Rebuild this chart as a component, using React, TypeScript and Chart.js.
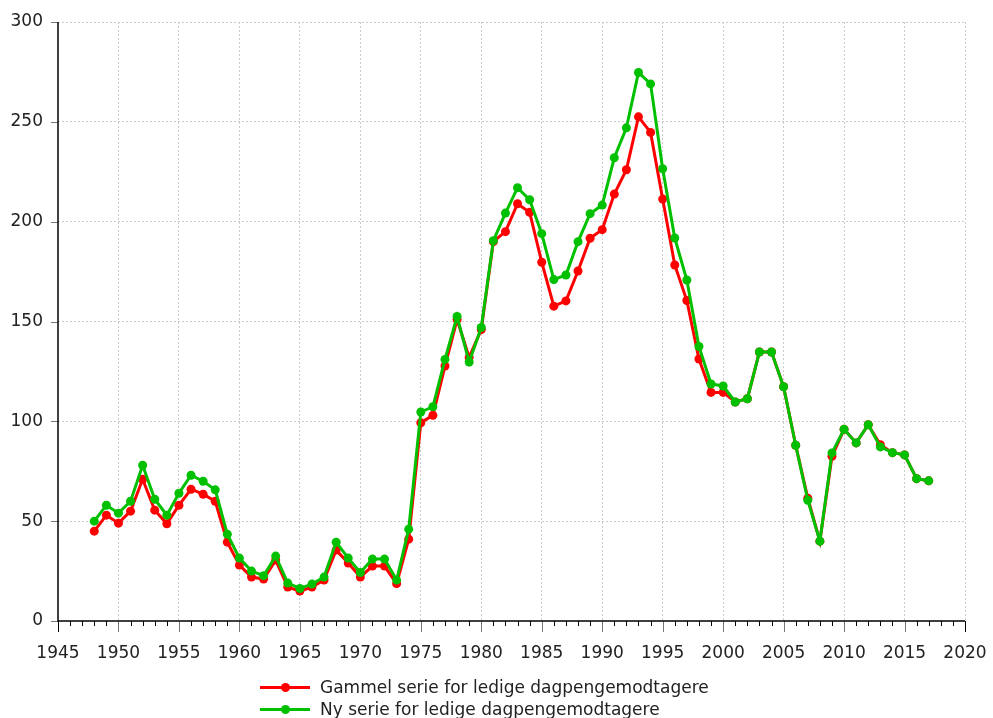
import React, { useEffect, useRef } from "react";
import { Chart, registerables } from "chart.js";

Chart.register(...registerables);

const years: number[] = [];
for (let y = 1948; y <= 2017; y++) years.push(y);

const oldSeries = [
  45, 53, 49, 55, 71, 55.5, 48.7, 58, 66, 63.5, 60, 39.5,
  28, 22, 21, 30.5, 17, 15, 17, 20.5, 35.5, 29,
  22, 27.5, 27.5, 18.7, 41, 99.3, 103, 127.7, 151, 132,
  146, 190, 195, 209, 204.7, 179.7, 157.7, 160.3, 175.3, 191.7,
  196, 213.8, 226, 252.5, 244.7, 211.3, 178.3, 160.5, 131.2, 114.5,
  114.5, 109.7, 111.3, 134.7, 134.7, 117.3, 88, 61.5, 40, 82.5,
  96, 89.2, 98.3, 88.3, 84.3, 83.2, 71.3, 70.2,
];

const newSeries = [
  50, 58, 54, 60, 78, 61, 53, 64, 73, 70, 65.7, 43.5,
  31.5, 25, 22.7, 32.5, 19, 16.3, 18.5, 22, 39.5, 31.5,
  24.3, 31, 31, 20.5, 46, 104.7, 107.3, 131, 152.5, 129.7,
  147, 190.5, 204.3, 217, 211, 194, 171, 173.3, 190, 204,
  208.3, 232, 247, 274.7, 269, 226.5, 191.8, 170.8, 137.5, 118.7,
  117.7, 109.7, 111.3, 134.7, 134.7, 117.3, 88, 60.5, 40, 84.2,
  96, 89.2, 98.3, 87.2, 84.3, 83.2, 71.3, 70.2,
];

const seriesLabels = [
  "Gammel serie for ledige dagpengemodtagere",
  "Ny serie for ledige dagpengemodtagere",
];
const seriesColors = ["#ff0000", "#00c000"];

const X_MIN = 1945;
const X_MAX = 2020;
const Y_MIN = 0;
const Y_MAX = 300;

const FONT = "'DejaVu Sans', Verdana, sans-serif";

const tickMarksPlugin = {
  id: "tickMarks",
  afterDraw(chart: any) {
    const ctx = chart.ctx;
    const xs = chart.scales.x;
    const ys = chart.scales.y;
    const bottom = chart.chartArea.bottom;
    const left = chart.chartArea.left;
    ctx.save();
    ctx.lineWidth = 1;
    for (let v = X_MIN; v <= X_MAX; v++) {
      const px = Math.round(xs.getPixelForValue(v)) + 0.5;
      const major = v % 5 === 0;
      ctx.strokeStyle = major ? (v === X_MIN || v === X_MAX ? "#000" : "#777") : "#000";
      ctx.beginPath();
      ctx.moveTo(px, bottom);
      ctx.lineTo(px, bottom + (major ? 11 : 5));
      ctx.stroke();
    }
    for (let v = Y_MIN; v <= Y_MAX; v += 50) {
      const py = Math.round(ys.getPixelForValue(v)) + 0.5;
      ctx.strokeStyle = "#777";
      ctx.beginPath();
      ctx.moveTo(left - 7, py);
      ctx.lineTo(left, py);
      ctx.stroke();
    }
    ctx.strokeStyle = "#000";
    ctx.lineWidth = 1.5;
    ctx.beginPath();
    ctx.moveTo(left, chart.chartArea.top);
    ctx.lineTo(left, bottom);
    ctx.lineTo(chart.chartArea.right, bottom);
    ctx.stroke();
    ctx.restore();
  },
};

export default function App() {
  const canvasRef = useRef<HTMLCanvasElement | null>(null);

  useEffect(() => {
    document.body.style.margin = "0";
    const canvas = canvasRef.current;
    if (!canvas) return;
    const chart = new Chart(canvas, {
      type: "line",
      data: {
        datasets: [
          {
            label: seriesLabels[0],
            data: years.map((x, i) => ({ x, y: oldSeries[i] })),
            borderColor: seriesColors[0],
            backgroundColor: seriesColors[0],
            pointBackgroundColor: seriesColors[0],
            pointBorderWidth: 0,
            pointRadius: 4.5,
            borderWidth: 3,
            tension: 0,
            order: 1,
          },
          {
            label: seriesLabels[1],
            data: years.map((x, i) => ({ x, y: newSeries[i] })),
            borderColor: seriesColors[1],
            backgroundColor: seriesColors[1],
            pointBackgroundColor: seriesColors[1],
            pointBorderWidth: 0,
            pointRadius: 4.5,
            borderWidth: 3,
            tension: 0,
            order: 0,
          },
        ],
      },
      options: {
        animation: false,
        responsive: false,
        maintainAspectRatio: false,
        layout: { padding: { top: 22, right: 28, bottom: 57, left: 0 } },
        plugins: {
          legend: { display: false },
          tooltip: { enabled: false },
        },
        scales: {
          x: {
            type: "linear",
            min: X_MIN,
            max: X_MAX,
            border: { display: false, dash: [2, 2] },
            grid: {
              drawTicks: false,
              color: (c: any) =>
                c.tick && c.tick.value % 5 === 0 && c.tick.value !== X_MIN ? "#cccccc" : "rgba(0,0,0,0)",
              lineWidth: 1,
            },
            ticks: {
              stepSize: 1,
              autoSkip: false,
              maxRotation: 0,
              padding: 22,
              color: "#222",
              font: { family: FONT, size: 17 },
              callback: (v: any) => (Number(v) % 5 === 0 ? String(v) : ""),
            },
            afterFit: (s: any) => {
              s.height = 40;
              s.paddingLeft = 0;
              s.paddingRight = 0;
            },
          },
          y: {
            type: "linear",
            min: Y_MIN,
            max: Y_MAX,
            border: { display: false, dash: [2, 2] },
            grid: {
              drawTicks: false,
              color: (c: any) => (c.tick && c.tick.value !== 0 ? "#cccccc" : "rgba(0,0,0,0)"),
              lineWidth: 1,
            },
            ticks: {
              stepSize: 50,
              padding: 15,
              color: "#222",
              font: { family: FONT, size: 17 },
            },
            afterFit: (s: any) => {
              s.width = 58;
              s.paddingTop = 0;
              s.paddingBottom = 0;
            },
          },
        },
      },
      plugins: [tickMarksPlugin],
    });
    return () => chart.destroy();
  }, []);

  const legendRow = (i: number, top: number) => (
    <div
      key={i}
      style={{
        position: "absolute",
        left: 260,
        top: top - 11,
        height: 22,
        display: "flex",
        alignItems: "center",
        whiteSpace: "nowrap",
      }}
    >
      <div style={{ position: "relative", width: 50, height: 22, marginRight: 10 }}>
        <div
          style={{
            position: "absolute",
            left: 0,
            top: 10,
            width: 50,
            height: 3,
            background: seriesColors[i],
          }}
        />
        <div
          style={{
            position: "absolute",
            left: 20.5,
            top: 7,
            width: 9,
            height: 9,
            borderRadius: "50%",
            background: seriesColors[i],
          }}
        />
      </div>
      <span style={{ fontFamily: FONT, fontSize: 17, color: "#222", lineHeight: "22px" }}>
        {seriesLabels[i]}
      </span>
    </div>
  );

  return (
    <div style={{ position: "relative", width: 993, height: 718, overflow: "hidden" }}>
      <canvas ref={canvasRef} width={993} height={718} style={{ display: "block" }} />
      {legendRow(0, 687)}
      {legendRow(1, 709)}
    </div>
  );
}
